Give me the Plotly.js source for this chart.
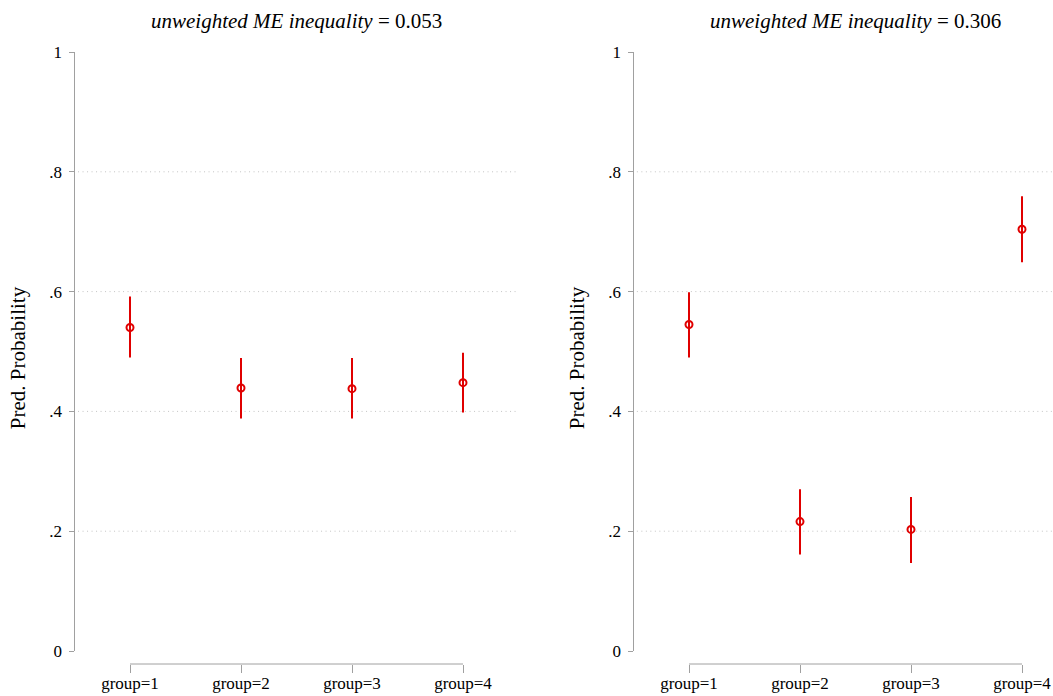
<!DOCTYPE html>
<html>
<head>
<meta charset="utf-8">
<script src="https://cdn.plot.ly/plotly-3.0.1.min.js"></script>
</head>
<body style="margin:0;background:#fff">
<div id="chart"></div>
<script>
const groups = ['group=1', 'group=2', 'group=3', 'group=4'];
const leftEst = [0.540, 0.439, 0.438, 0.448];
const leftLo  = [0.490, 0.388, 0.388, 0.398];
const leftHi  = [0.592, 0.489, 0.489, 0.498];
const rightEst = [0.545, 0.216, 0.203, 0.704];
const rightLo  = [0.490, 0.161, 0.147, 0.649];
const rightHi  = [0.599, 0.270, 0.257, 0.759];
const yTickVals = [0, 0.2, 0.4, 0.6, 0.8, 1];
const yTickText = ['0', '.2', '.4', '.6', '.8', '1'];
const gridVals = [0.2, 0.4, 0.6, 0.8];
const titles = ['<i>unweighted ME inequality</i> = 0.053', '<i>unweighted ME inequality</i> = 0.306'];
const yTitle = 'Pred. Probability';

const RED = '#e00000';
const AX = '#a0a0a0';
const FONT = 'Liberation Serif';

function trace(est, lo, hi, xa, ya) {
  return {
    type: 'scatter', mode: 'markers', x: groups, y: est,
    xaxis: xa, yaxis: ya,
    marker: {symbol: 'circle-open', size: 7, color: RED, line: {width: 2, color: RED}},
    error_y: {type: 'data', symmetric: false,
      array: hi.map((h, i) => h - est[i]),
      arrayminus: lo.map((l, i) => est[i] - l),
      color: RED, thickness: 2, width: 0},
    showlegend: false, hoverinfo: 'x+y'
  };
}

const data = [
  trace(leftEst, leftLo, leftHi, 'x', 'y'),
  trace(rightEst, rightLo, rightHi, 'x2', 'y2')
];

const yBottom = -13 / 599;
function yax(anchor) {
  return {
    anchor: anchor, domain: [0, 1], range: [yBottom, 1],
    showline: false, showgrid: false, zeroline: false,
    tickvals: yTickVals, ticktext: yTickText,
    ticks: 'outside', ticklen: 5, tickwidth: 1, tickcolor: AX,
    ticklabelstandoff: 3,
    tickfont: {family: FONT, size: 17, color: '#000'},
    title: {text: yTitle, font: {family: FONT, size: 21, color: '#000'}, standoff: 17},
    fixedrange: true
  };
}
function xax(anchor, domain, range) {
  return {
    anchor: anchor, domain: domain, range: range, type: 'category',
    showline: false, showgrid: false, zeroline: false,
    ticks: 'outside', ticklen: 8, tickwidth: 1, tickcolor: AX,
    ticklabelstandoff: -4,
    tickfont: {family: FONT, size: 17, color: '#000'},
    fixedrange: true
  };
}

const shapes = [];
const annotations = [];
[['x', 'y'], ['x2', 'y2']].forEach(([xa, ya], k) => {
  gridVals.forEach(v => shapes.push({type: 'line', xref: xa + ' domain', yref: ya,
    x0: 0.008, x1: 1, y0: v, y1: v, line: {color: '#c4c4c4', width: 1, dash: '1px,3.5px'}, layer: 'below'}));
  shapes.push({type: 'line', xref: xa + ' domain', yref: ya, x0: 0, x1: 0, y0: 0, y1: 1,
    line: {color: AX, width: 1}});
  shapes.push({type: 'line', xref: xa, yref: ya + ' domain', x0: 0, x1: groups.length - 1, y0: 0, y1: 0,
    line: {color: AX, width: 1}});
  annotations.push({xref: xa, yref: 'paper', x: 1.5, y: 1, yshift: 17, yanchor: 'bottom',
    text: titles[k], showarrow: false, font: {family: FONT, size: 21, color: '#000'}});
});

const layout = {
  width: 1053, height: 696,
  margin: {l: 0, r: 0, t: 52, b: 32},
  paper_bgcolor: '#fff', plot_bgcolor: '#fff',
  font: {family: FONT, color: '#000'},
  xaxis: xax('y', [74.5 / 1053, 518.5 / 1053], [-0.5, 3.5]),
  xaxis2: xax('y2', [633.5 / 1053, 1], [-0.5, -0.5 + 419.5 / 111]),
  yaxis: yax('x'),
  yaxis2: yax('x2'),
  shapes: shapes,
  annotations: annotations
};

Plotly.newPlot('chart', data, layout, {displayModeBar: false, staticPlot: true});
</script>
</body>
</html>
